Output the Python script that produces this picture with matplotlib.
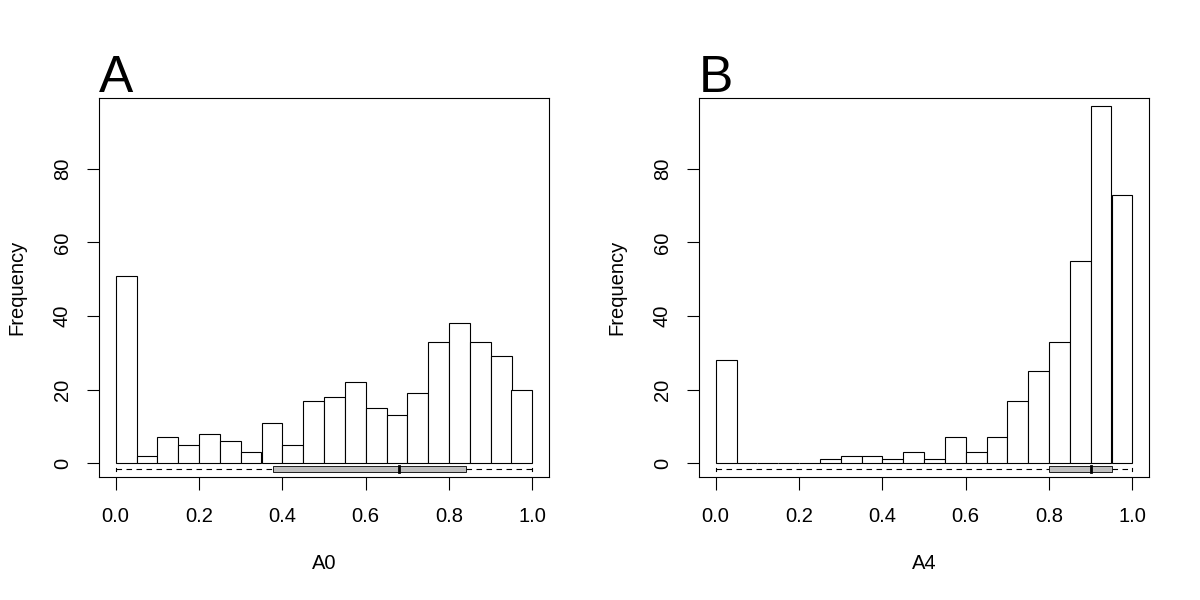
import matplotlib
matplotlib.use('Agg')
import matplotlib.pyplot as plt
import numpy as np

plt.rcParams['font.family'] = ['Liberation Sans', 'DejaVu Sans']

# histogram bins (width 0.05 from 0 to 1)
bin_edges = np.round(np.arange(0, 1.0001, 0.05), 2)
counts_a0 = [51, 2, 7, 5, 8, 6, 3, 11, 5, 17, 18, 22, 15, 13, 19, 33, 38, 33, 29, 20]
counts_a4 = [28, 0, 0, 0, 0, 1, 2, 2, 1, 3, 1, 7, 3, 7, 17, 25, 33, 55, 97, 73]

# boxplot summaries: whisker low, q1, median, q3, whisker high
box_a0 = [0.0, 0.378, 0.680, 0.841, 1.0]
box_a4 = [0.0, 0.801, 0.901, 0.951, 1.0]

panels = [('A', 'A0', counts_a0, box_a0), ('B', 'A4', counts_a4, box_a4)]
lefts = [99, 699]

fig = plt.figure(figsize=(12, 6), dpi=100)

for (letter, xlab, counts, box), left in zip(panels, lefts):
    ax = fig.add_axes([left / 1200, (600 - 477) / 600, 450 / 1200, 379 / 600])
    ax.bar(bin_edges[:-1], counts, width=0.05, align='edge',
           facecolor='white', edgecolor='black', linewidth=0.8)

    # horizontal boxplot below the bars
    yb = -1.7
    h = 1.6
    ax.plot([box[0], box[1]], [yb, yb], color='black', lw=0.8, ls=(0, (5, 4)))
    ax.plot([box[3], box[4]], [yb, yb], color='black', lw=0.8, ls=(0, (5, 4)))
    ax.plot([box[0], box[0]], [yb - 0.4, yb + 0.4], color='black', lw=0.8)
    ax.plot([box[4], box[4]], [yb - 0.4, yb + 0.4], color='black', lw=0.8)
    ax.add_patch(plt.Rectangle((box[1], yb - h / 2), box[3] - box[1], h,
                               facecolor='#bebebe', edgecolor='black', lw=0.6, zorder=3))
    ax.plot([box[2], box[2]], [yb - h / 2, yb + h / 2], color='black', lw=2, zorder=4)

    ax.set_xlim(-0.04, 1.04)
    ax.set_ylim(-3.8, 99.3)
    ax.set_xticks([0.0, 0.2, 0.4, 0.6, 0.8, 1.0])
    ax.set_xticklabels(['0.0', '0.2', '0.4', '0.6', '0.8', '1.0'])
    ax.set_yticks([0, 20, 40, 60, 80])
    ax.tick_params(axis='both', labelsize=14.5, length=9, width=0.8)
    ax.tick_params(axis='x', pad=12.5)
    ax.tick_params(axis='y', pad=10.5)
    for lab in ax.get_yticklabels():
        lab.set_rotation(90)
        lab.set_va('center')
    for s in ax.spines.values():
        s.set_linewidth(0.8)
    ax.set_xlabel(xlab, fontsize=14.5, labelpad=20.5)
    ax.set_ylabel('Frequency', fontsize=14.5, labelpad=19)

    fig.text(left / 1200, (600 - 92) / 600, letter, fontsize=37,
             ha='left', va='baseline')

fig.savefig('out.png', dpi=100)
